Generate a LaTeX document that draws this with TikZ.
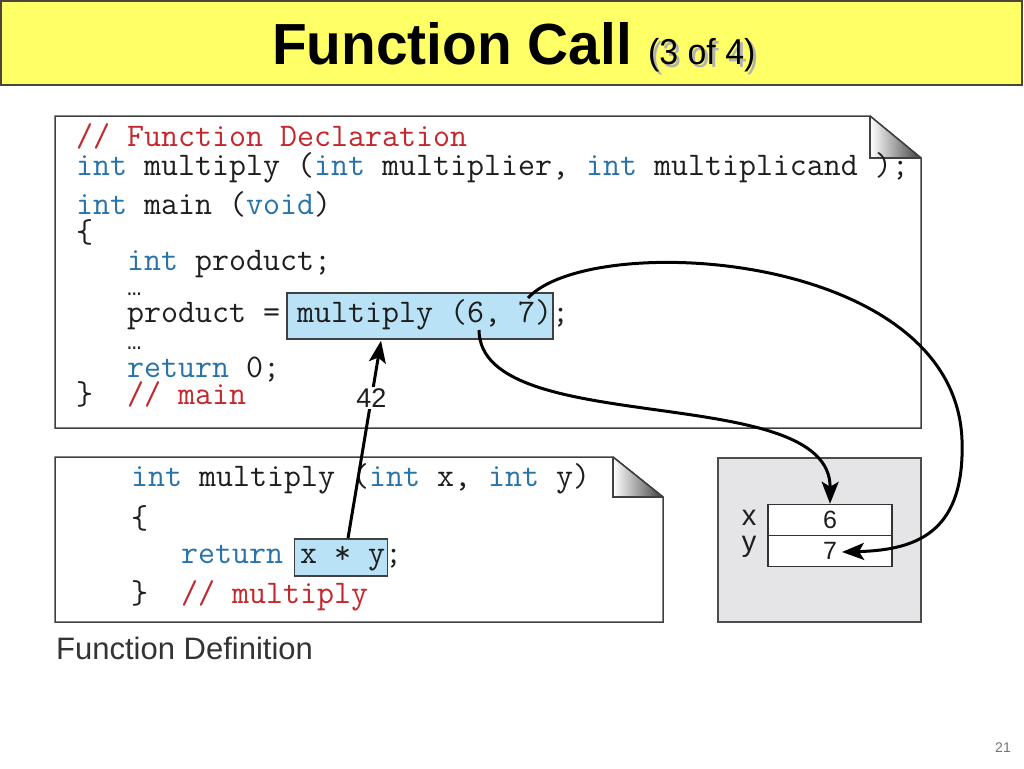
\documentclass[tikz,border=0pt]{standalone}
\usepackage{fontspec}
\setmainfont{Liberation Sans}
\newfontfamily\ellfont{Liberation Mono}
\usetikzlibrary{arrows.meta,calc}
\definecolor{kwc}{RGB}{40,115,170}
\definecolor{cmc}{RGB}{195,40,45}
\definecolor{txc}{RGB}{30,30,30}
\definecolor{hlc}{RGB}{185,226,246}
\definecolor{titlebg}{RGB}{255,255,102}
\definecolor{boxgray}{RGB}{229,229,232}
\newcommand{\kw}[1]{\textcolor{kwc}{#1}}
\newcommand{\cmt}[1]{\textcolor{cmc}{#1}}
\frenchspacing
\tikzset{
  code/.style={anchor=base west, inner sep=0pt, text=txc,
    font=\ttfamily\fontsize{33}{34}\selectfont},
  ell/.style={anchor=base west, inner sep=0pt, text=txc,
    font=\ellfont\fontsize{24}{24}\selectfont},
  panel/.style={draw=black!75, line width=1.5pt, fill=white},
  hlbox/.style={draw=black!75, line width=1.5pt, fill=hlc, inner sep=0pt},
  cell/.style={draw=black!80, line width=1.5pt, fill=white, minimum width=124pt,
    minimum height=31pt, inner sep=0pt, font=\fontsize{25}{25}\selectfont, text=txc},
  lbl/.style={inner sep=0pt, font=\fontsize{29}{29}\selectfont, text=txc},
  flow/.style={line width=3pt, -{Stealth[length=22pt,width=17pt,inset=5pt]}},
  fold/.style={draw=black!75, line width=1.5pt}
}
\begin{document}
\begin{tikzpicture}[x=1pt,y=-1pt]
\useasboundingbox (0,0) rectangle (1024,768);
% title bar
\draw[fill=titlebg, draw=black!70!yellow!60!black, line width=1.5pt] (1,1) rectangle (1022,85);
\node[anchor=base west, inner sep=0pt] (title) at (272,64)
  {\fontsize{58}{58}\selectfont\bfseries\scalebox{0.98}[1]{Function Call}};
\node[anchor=base west, inner sep=0pt, text=black!30] at (651,67)
  {\fontsize{36}{36}\selectfont\scalebox{0.94}[1]{(3 of 4)}};
\node[anchor=base west, inner sep=0pt] (sub) at (648,64)
  {\fontsize{36}{36}\selectfont\scalebox{0.94}[1]{(3 of 4)}};

% declaration panel
\path[panel] (55,116) -- (870,116) -- (921,158) -- (921,428) -- (55,428) -- cycle;
\shade[left color=white, right color=black!75] (870,116) -- (921,158) -- (870,158) -- cycle;
\draw[fold] (870,116) -- (870,158) -- (921,158);
\draw[fold] (870,116) -- (921,158);

\node[hlbox, minimum width=266pt, minimum height=46pt] (call) at (420,316) {};

\node[code] (d1) at (76,146) {\cmt{// Function Declaration}};
\node[code] (d2) at (76,175) {\kw{int} multiply (\kw{int} multiplier, \kw{int} multiplicand );};
\node[code] (d3) at (76,214) {\kw{int} main (\kw{void})};
\node[code] (d4) at (76,242) {\{};
\node[code] (d5) at (127,270) {\kw{int} product;};
\node[ell] (d6) at (127,295) {…};
\node[code] (d7) at (127,322) {product = multiply (6, 7);};
\node[ell] (d8) at (127,349) {…};
\node[code] (d9) at (127,377) {\kw{return} 0;};
\node[code] (d10) at (76,404) {\}};
\node[code] (d11) at (127,404) {\cmt{// main}};

% definition panel
\path[panel] (55,457) -- (613,457) -- (663,497) -- (663,622) -- (55,622) -- cycle;
\shade[left color=white, right color=black!75] (613,457) -- (663,497) -- (613,497) -- cycle;
\draw[fold] (613,457) -- (613,497) -- (663,497);
\draw[fold] (613,457) -- (663,497);

\node[hlbox, minimum width=93pt, minimum height=37pt] (xy) at (341,557.5) {};

\node[code] (f1) at (131,486) {\kw{int} multiply (\kw{int} x, \kw{int} y)};
\node[code] (f2) at (131,528) {\{};
\node[code] (f3) at (181,563) {\kw{return} x * y;};
\node[code] (f4) at (131,603) {\}};
\node[code] (f5) at (181,603) {\cmt{// multiply}};

\node[anchor=base west, inner sep=0pt, text=black!80] (fdef) at (56,659)
  {\fontsize{31}{31}\selectfont Function Definition};

% memory box
\draw[fill=boxgray, draw=black!70, line width=1.5pt] (718,458) rectangle (921,622);
\node[cell] (cell6) at (830,520) {6};
\node[cell] (cell7) at (830,551) {7};
\node[lbl] (lx) at (749,518) {x};
\node[lbl] (ly) at (749,547) {y};

% connectors
\draw[flow] ($(xy.north)+(7,0)$) -- node[pos=0.71, fill=white, inner sep=2pt, font=\fontsize{27}{27}\selectfont, text=txc] (v42) {42} ($(call.south)+(-39,1)$);
\draw[flow] ($(call.center)+(59,14)$) .. controls (480,440) and (831,380) .. (cell6.north);
\draw[flow] ($(call.center)+(108,-18)$) .. controls (590,230) and (955,250) .. (962,440)
  .. controls (965,530) and (920,550) .. ($(cell7.center)+(12,1)$);

% page number
\node[inner sep=0pt, text=black!55, font=\fontsize{14}{14}\selectfont] (pg) at (1003,748) {21};
\end{tikzpicture}
\end{document}
